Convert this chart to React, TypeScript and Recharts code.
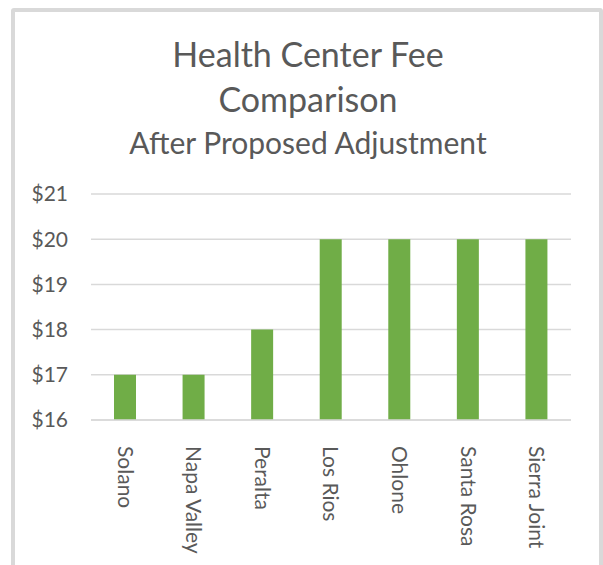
import * as React from "react";
import { BarChart, Bar, XAxis, YAxis, CartesianGrid } from "recharts";

const colleges = ["Solano", "Napa Valley", "Peralta", "Los Rios", "Ohlone", "Santa Rosa", "Sierra Joint"];
const fees = [17, 17, 18, 20, 20, 20, 20];
const yTicks = [16, 17, 18, 19, 20, 21];

const FONT = "Lato, 'Open Sans', sans-serif";
const TEXT = "#595959";

const data = colleges.map((name, i) => ({ name, fee: fees[i] }));

// rotated category labels, reading top to bottom
function RotatedTick(props: any) {
  const { x, y, payload } = props;
  return (
    <text
      x={0}
      y={0}
      dy="0.36em"
      textAnchor="start"
      transform={`translate(${x},${y + 18}) rotate(90)`}
      fill={TEXT}
      fontSize={21}
      fontFamily={FONT}
    >
      {payload.value}
    </text>
  );
}

export default function App() {
  return (
    <div style={{ position: "absolute", left: 0, top: 0, width: 603, height: 565, background: "#fff", overflow: "hidden" }}>
      <div
        style={{
          position: "absolute",
          left: 11,
          top: 8,
          width: 584,
          height: 600,
          border: "4px solid #d9d9d9",
          borderRadius: 3,
        }}
      />
      <svg width={603} height={170} style={{ position: "absolute", left: 0, top: 0 }}>
        <text x={308} y={67} textAnchor="middle" fill={TEXT} fontSize={34} fontFamily={FONT}>
          Health Center Fee
        </text>
        <text x={308} y={112} textAnchor="middle" fill={TEXT} fontSize={34} fontFamily={FONT}>
          Comparison
        </text>
        <text x={308} y={154} textAnchor="middle" fill={TEXT} fontSize={30} fontFamily={FONT}>
          After Proposed Adjustment
        </text>
      </svg>
      <div style={{ position: "absolute", left: 0, top: 0 }}>
        <BarChart
          width={603}
          height={565}
          data={data}
          margin={{ top: 194, right: 32, left: 31, bottom: 25 }}
        >
          <CartesianGrid vertical={false} stroke="#d9d9d9" strokeWidth={1.5} />
          <XAxis
            dataKey="name"
            height={120}
            interval={0}
            axisLine={{ stroke: "#d9d9d9", strokeWidth: 1.5 }}
            tickLine={false}
            tick={<RotatedTick />}
          />
          <YAxis
            width={60}
            domain={[16, 21]}
            ticks={yTicks}
            allowDataOverflow
            axisLine={false}
            tickLine={false}
            tickSize={0}
            tickMargin={23}
            tickFormatter={(v: number) => `$${v}`}
            tick={{ fill: TEXT, fontSize: 21, fontFamily: FONT }}
          />
          <Bar dataKey="fee" fill="#70ad47" barSize={22} isAnimationActive={false} />
        </BarChart>
      </div>
    </div>
  );
}
